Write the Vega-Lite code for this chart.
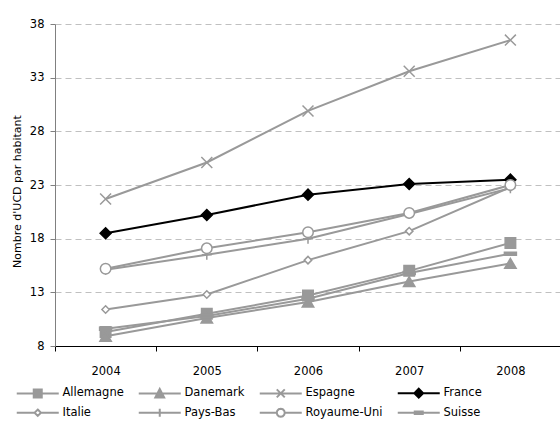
{
  "$schema": "https://vega.github.io/schema/vega-lite/v6.json",
  "width": 506,
  "height": 322,
  "autosize": {"type": "none"},
  "padding": {"left": 55, "top": 24, "right": 0, "bottom": 81},
  "background": "white",
  "config": {"font": "DejaVu Sans", "view": {"stroke": null}},
  "data": {"values": [
    {"country": "Allemagne", "year": "2004", "value": 9.3},
    {"country": "Allemagne", "year": "2005", "value": 11.0},
    {"country": "Allemagne", "year": "2006", "value": 12.7},
    {"country": "Allemagne", "year": "2007", "value": 15.0},
    {"country": "Allemagne", "year": "2008", "value": 17.6},
    {"country": "Danemark", "year": "2004", "value": 8.9},
    {"country": "Danemark", "year": "2005", "value": 10.6},
    {"country": "Danemark", "year": "2006", "value": 12.1},
    {"country": "Danemark", "year": "2007", "value": 14.0},
    {"country": "Danemark", "year": "2008", "value": 15.7},
    {"country": "Espagne", "year": "2004", "value": 21.7},
    {"country": "Espagne", "year": "2005", "value": 25.1},
    {"country": "Espagne", "year": "2006", "value": 29.9},
    {"country": "Espagne", "year": "2007", "value": 33.6},
    {"country": "Espagne", "year": "2008", "value": 36.5},
    {"country": "France", "year": "2004", "value": 18.5},
    {"country": "France", "year": "2005", "value": 20.2},
    {"country": "France", "year": "2006", "value": 22.1},
    {"country": "France", "year": "2007", "value": 23.1},
    {"country": "France", "year": "2008", "value": 23.5},
    {"country": "Italie", "year": "2004", "value": 11.4},
    {"country": "Italie", "year": "2005", "value": 12.8},
    {"country": "Italie", "year": "2006", "value": 16.0},
    {"country": "Italie", "year": "2007", "value": 18.7},
    {"country": "Italie", "year": "2008", "value": 22.8},
    {"country": "Pays-Bas", "year": "2004", "value": 15.1},
    {"country": "Pays-Bas", "year": "2005", "value": 16.5},
    {"country": "Pays-Bas", "year": "2006", "value": 18.0},
    {"country": "Pays-Bas", "year": "2007", "value": 20.3},
    {"country": "Pays-Bas", "year": "2008", "value": 22.7},
    {"country": "Royaume-Uni", "year": "2004", "value": 15.2},
    {"country": "Royaume-Uni", "year": "2005", "value": 17.1},
    {"country": "Royaume-Uni", "year": "2006", "value": 18.6},
    {"country": "Royaume-Uni", "year": "2007", "value": 20.4},
    {"country": "Royaume-Uni", "year": "2008", "value": 23.0},
    {"country": "Suisse", "year": "2004", "value": 9.6},
    {"country": "Suisse", "year": "2005", "value": 10.8},
    {"country": "Suisse", "year": "2006", "value": 12.4},
    {"country": "Suisse", "year": "2007", "value": 14.8},
    {"country": "Suisse", "year": "2008", "value": 16.6}
  ]},
  "encoding": {
    "x": {
      "field": "year", "type": "ordinal",
      "scale": {"type": "band", "paddingInner": 0, "paddingOuter": 0},
      "axis": {"title": null, "labelAngle": 0, "tickBand": "extent", "domainColor": "#000000", "tickColor": "#000000", "tickSize": 5, "labelPadding": 14, "labelFontSize": 11.5, "labelColor": "#000000", "grid": false}
    },
    "y": {
      "field": "value", "type": "quantitative",
      "scale": {"domain": [8, 38], "nice": false, "zero": false},
      "axis": {"values": [8, 13, 18, 23, 28, 33, 38], "title": "Nombre d'UCD par habitant", "titleFontSize": 11, "titleFontWeight": "normal", "titleColor": "#000000", "titleX": -33, "titleY": 167, "grid": true, "gridDash": [6, 4], "gridColor": "#c0c0c0", "domainColor": "#808080", "tickColor": "#808080", "tickSize": 5, "labelPadding": 6, "labelFontSize": 11.5, "labelColor": "#000000"}
    }
  },
  "layer": [
    {
      "mark": {"type": "point", "opacity": 0, "strokeWidth": 2},
      "encoding": {
        "stroke": {
          "field": "country", "type": "nominal",
          "scale": {"domain": ["Allemagne", "Danemark", "Espagne", "France", "Italie", "Pays-Bas", "Royaume-Uni", "Suisse"], "range": ["#999999", "#999999", "#999999", "#000000", "#999999", "#999999", "#999999", "#999999"]},
          "legend": {
            "orient": "none", "legendX": -23, "legendY": 363, "direction": "horizontal", "columns": 4, "title": null,
            "gridAlign": "each", "columnPadding": 10, "rowPadding": 2, "padding": 0, "symbolOpacity": 1,
            "labelFontSize": 11.5, "labelColor": "#000000", "labelOffset": 19, "symbolSize": 64, "symbolStrokeWidth": 2
          }
        },
        "fill": {
          "field": "country", "type": "nominal",
          "scale": {"domain": ["Allemagne", "Danemark", "Espagne", "France", "Italie", "Pays-Bas", "Royaume-Uni", "Suisse"], "range": ["#999999", "#999999", "#999999", "#000000", "#ffffff", "#999999", "#ffffff", "#999999"]},
          "legend": {
            "orient": "none", "legendX": -23, "legendY": 363, "direction": "horizontal", "columns": 4, "title": null,
            "gridAlign": "each", "columnPadding": 10, "rowPadding": 2, "padding": 0, "symbolOpacity": 1,
            "labelFontSize": 11.5, "labelColor": "#000000", "labelOffset": 19, "symbolSize": 64, "symbolStrokeWidth": 2
          }
        },
        "shape": {
          "field": "country", "type": "nominal",
          "scale": {"domain": ["Allemagne", "Danemark", "Espagne", "France", "Italie", "Pays-Bas", "Royaume-Uni", "Suisse"], "range": ["M-5.25,0H5.25M-1,-1H1V1H-1Z", "M-5.25,0H5.25M0,-1.1L1.1,1L-1.1,1Z", "M-5.25,0H5.25M-1,-1L1,1M-1,1L1,-1", "M-5.25,0H5.25M0,-1.1L1.1,0L0,1.1L-1.1,0Z", "M-5.25,0H-0.8M0.8,0H5.25M0,-0.8L0.8,0L0,0.8L-0.8,0Z", "M-5.25,0H5.25M0,-1V1", "M-5.25,0H-1M1,0H5.25M-1,0L-0.87,-0.5L-0.5,-0.87L0,-1L0.5,-0.87L0.87,-0.5L1,0L0.87,0.5L0.5,0.87L0,1L-0.5,0.87L-0.87,0.5Z", "M-5.25,0H5.25M-1,-0.3H1V0.3H-1Z"]},
          "legend": {
            "orient": "none", "legendX": -23, "legendY": 363, "direction": "horizontal", "columns": 4, "title": null,
            "gridAlign": "each", "columnPadding": 10, "rowPadding": 2, "padding": 0, "symbolOpacity": 1,
            "labelFontSize": 11.5, "labelColor": "#000000", "labelOffset": 19, "symbolSize": 64, "symbolStrokeWidth": 2
          }
        }
      }
    },
    {
      "mark": {"type": "line", "strokeWidth": 2},
      "encoding": {
        "stroke": {"field": "country", "type": "nominal"}
      }
    },
    {
      "mark": {
        "type": "point", "filled": false, "strokeWidth": 1.5, "opacity": 1,
        "shape": {"expr": "datum.country === 'Allemagne' ? 'square' : datum.country === 'Danemark' ? 'triangle-up' : datum.country === 'Espagne' ? 'M-1,-1L1,1M-1,1L1,-1' : datum.country === 'France' ? 'diamond' : datum.country === 'Italie' ? 'diamond' : datum.country === 'Pays-Bas' ? 'M0,-1V1M-1,0H1' : datum.country === 'Royaume-Uni' ? 'circle' : 'M-1,-0.25H1V0.25H-1Z'"},
        "fill": {"expr": "datum.country === 'Italie' || datum.country === 'Royaume-Uni' ? '#ffffff' : (datum.country === 'France' ? '#000000' : '#999999')"},
        "size": {"expr": "datum.country === 'Italie' ? 55 : datum.country === 'Danemark' ? 130 : datum.country === 'Suisse' ? 144 : datum.country === 'Pays-Bas' ? 100 : datum.country === 'Allemagne' || datum.country === 'Royaume-Uni' ? 110 : 120"}
      },
      "encoding": {
        "stroke": {"field": "country", "type": "nominal"}
      }
    }
  ]
}
